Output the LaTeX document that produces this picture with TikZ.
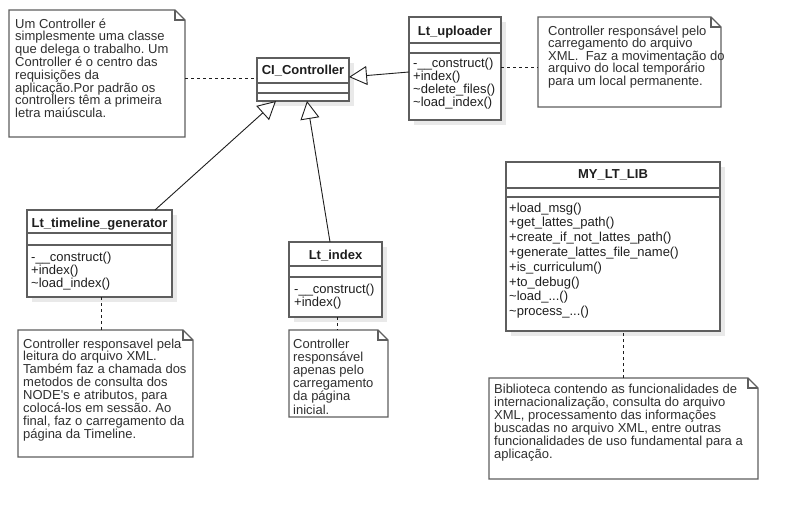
\documentclass[tikz,border=0pt]{standalone}
\usepackage{fontspec}
\setmainfont{Liberation Sans}
\usetikzlibrary{arrows.meta}
\frenchspacing
\definecolor{bordc}{HTML}{5E5E5E}
\definecolor{shad}{HTML}{E9E9E9}
\definecolor{txtc}{HTML}{1E1E1E}
\definecolor{notetxt}{HTML}{303030}
\newcommand{\mlines}[1]{\vtop{\halign{##\hfil\cr #1\crcr}}}
\tikzset{
  classbox/.style={draw=bordc, line width=1.4pt, fill=white, anchor=north west, inner sep=0pt, outer sep=0pt},
  sepline/.style={draw=bordc, line width=1.4pt},
  titletext/.style={anchor=base, inner sep=0pt, text=txtc, font=\fontsize{13}{13}\selectfont\bfseries},
  membertext/.style={anchor=base west, inner sep=0pt, text=txtc},
  notearea/.style={anchor=north west, inner sep=0pt, outer sep=0pt},
  noteline/.style={draw=bordc, line width=1.3pt, line join=miter},
  notetext/.style={anchor=base west, inner sep=0pt, text=notetxt},
  inherit/.style={draw=txtc, line width=0.9pt, -{Triangle[open, length=18pt, width=19pt, fill=white]}},
  dashline/.style={draw=txtc, line width=0.9pt, dash pattern=on 3pt off 3pt}
}
% name, x1, y1, x2, y2, sep1, sep2
\newcommand{\umlbox}[7]{%
  \fill[shad] (#2+5,#3+5) rectangle (#4+5,#5+5);
  \node[classbox, minimum width=#4-#2, minimum height=#5-#3] (#1) at (#2,#3) {};
  \draw[sepline] (#2,#6) -- (#4,#6);
  \draw[sepline] (#2,#7) -- (#4,#7);
}
% name, x1, y1, x2, y2
\newcommand{\notebox}[5]{%
  \node[notearea, minimum width=#4-#2, minimum height=#5-#3] (#1) at (#2,#3) {};
  \draw[noteline, fill=white] (#2,#3) -- (#4-10,#3) -- (#4,#3+10) -- (#4,#5) -- (#2,#5) -- cycle;
  \draw[noteline] (#4-10,#3) -- (#4-10,#3+10) -- (#4,#3+10);
}
\begin{document}
\begin{tikzpicture}[x=1pt,y=-1pt]
\useasboundingbox (0,0) rectangle (799,514);
\fill[white] (0,0) rectangle (799,514);

% classes
\umlbox{ci}{257}{58}{349}{101}{83}{93}
\node[titletext] (citl) at (303,74) {CI\_Controller};

\umlbox{up}{409}{17}{501}{120}{43}{53}
\node[titletext] (uptl) at (455,35) {Lt\_uploader};
\node[membertext, font=\fontsize{13}{13.3}\selectfont] (upm) at (413,67)
  {\mlines{-\_\_construct()\cr +index()\cr \textasciitilde delete\_files()\cr \textasciitilde load\_index()}};

\umlbox{tl}{27}{210}{172}{297}{233}{245}
\node[titletext] (tltl) at (99.5,227) {Lt\_timeline\_generator};
\node[membertext, font=\fontsize{13}{13}\selectfont] (tlm) at (31,261)
  {\mlines{-\_\_construct()\cr +index()\cr \textasciitilde load\_index()}};

\umlbox{li}{289}{242}{382}{317}{266}{277}
\node[titletext] (litl) at (335.5,259) {Lt\_index};
\node[membertext, font=\fontsize{13}{13}\selectfont] (lim) at (294,293)
  {\mlines{-\_\_construct()\cr +index()}};

\umlbox{lib}{506}{162}{720}{331}{188}{197}
\node[titletext] (libtl) at (613,178) {MY\_LT\_LIB};
\node[membertext, font=\fontsize{13}{14.8}\selectfont] (libm) at (509,212)
  {\mlines{+load\_msg()\cr +get\_lattes\_path()\cr +create\_if\_not\_lattes\_path()\cr +generate\_lattes\_file\_name()\cr +is\_curriculum()\cr +to\_debug()\cr \textasciitilde load\_...()\cr \textasciitilde process\_...()}};

% notes
\notebox{na}{9}{10}{185}{137}
\node[notetext, font=\fontsize{13}{12.8}\selectfont] (nat) at (15,28)
  {\mlines{Um Controller é\cr simplesmente uma classe\cr que delega o trabalho. Um\cr Controller é o centro das\cr requisições da\cr aplicação.Por padrão os\cr controllers têm a primeira\cr letra maiúscula.}};

\notebox{nb}{538}{17}{721}{107}
\node[notetext, font=\fontsize{13}{12.6}\selectfont] (nbt) at (548,35)
  {\mlines{Controller responsável pelo\cr carregamento do arquivo\cr XML.\ \ Faz a movimentação do\cr arquivo do local temporário\cr para um local permanente.}};

\notebox{nc}{18}{330}{193}{457}
\node[notetext, font=\fontsize{13}{12.9}\selectfont] (nct) at (23,348)
  {\mlines{Controller responsavel pela\cr leitura do arquivo XML.\cr Também faz a chamada dos\cr metodos de consulta dos\cr NODE\textquotesingle s e atributos, para\cr colocá-los em sessão. Ao\cr final, faz o carregamento da\cr página da Timeline.}};

\notebox{nd}{289}{330}{388}{417}
\node[notetext, font=\fontsize{13}{13.2}\selectfont] (ndt) at (293,348)
  {\mlines{Controller\cr responsável\cr apenas pelo\cr carregamento\cr da página\cr inicial.}};

\notebox{ne}{489}{378}{758}{479}
\node[notetext, font=\fontsize{13}{13}\selectfont] (net) at (494,393)
  {\mlines{Biblioteca contendo as funcionalidades de\cr internacionalização, consulta do arquivo\cr XML, processamento das informações\cr buscadas no arquivo XML, entre outras\cr funcionalidades de uso fundamental para a\cr aplicação.}};

% inheritance
\draw[inherit] ([yshift=-3.5pt]up.west) -- ([yshift=2.5pt]ci.east);
\draw[inherit] ([xshift=55.5pt]tl.north) -- ([xshift=-27pt]ci.south);
\draw[inherit] ([xshift=-5.5pt]li.north) -- ([xshift=4pt]ci.south);

% note links
\draw[dashline] (na.east |- 0,78) -- (ci.west |- 0,78);
\draw[dashline] ([yshift=1.5pt]up.east) -- ([yshift=1.5pt]up.east -| nb.west);
\draw[dashline] ([xshift=2pt]tl.south) -- ([xshift=2pt]tl.south |- nc.north);
\draw[dashline] ([xshift=1.5pt]li.south) -- ([xshift=1.5pt]li.south |- nd.north);
\draw[dashline] (ne.north) -- (ne.north |- lib.south);
\end{tikzpicture}
\end{document}
